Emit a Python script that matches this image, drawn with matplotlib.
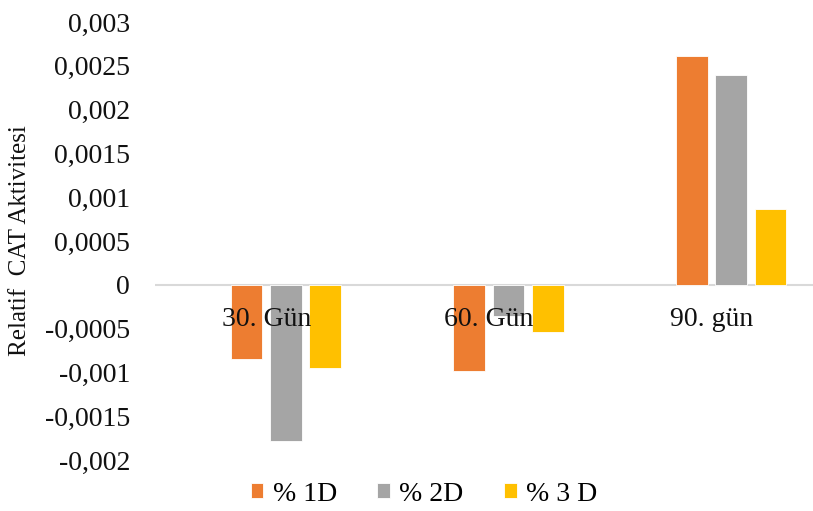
import numpy as np
import matplotlib.pyplot as plt
from matplotlib.ticker import FuncFormatter

plt.rcParams['font.family'] = ['Liberation Serif', 'DejaVu Serif']

# relative CAT activity per sampling day and dose
days = ['30. Gün', '60. Gün', '90. gün']
series_names = ['% 1D', '% 2D', '% 3 D']
dose_1 = [-0.00085, -0.00098, 0.00261]
dose_2 = [-0.00178, -0.00036, 0.00240]
dose_3 = [-0.00095, -0.00054, 0.00087]
colors = ['#ED7D31', '#A5A5A5', '#FFC000']

fig = plt.figure(figsize=(8.13, 5.11), dpi=100)
ax = fig.add_axes([155 / 813, 1 - 460 / 511, 1 - 155 / 813, 438 / 511])

x = np.arange(len(days))
step = 0.1765
width = 0.142
for k, (vals, name, col) in enumerate(zip([dose_1, dose_2, dose_3], series_names, colors)):
    ax.bar(x + (k - 0.5) * step, vals, width, color=col, label=name,
           edgecolor='white', linewidth=0.6, zorder=2)

ax.axhline(0, color='#D9D9D9', lw=1.5, zorder=1)

# category labels sit just under the zero line
for i, d in enumerate(days):
    ax.annotate(d, xy=(i, 0), xytext=(0, -25), textcoords='offset points',
                ha='center', va='center', fontsize=20, color='#111111', zorder=3)

ax.set_xlim(-0.5, 2.456)
ax.set_ylim(-0.002, 0.003)
ax.set_yticks(np.arange(-0.002, 0.00301, 0.0005))
ax.yaxis.set_major_formatter(FuncFormatter(
    lambda v, p: '0' if abs(v) < 1e-12 else ('%g' % round(v, 6)).replace('.', ',')))
ax.tick_params(axis='y', length=0, pad=18, labelsize=20, labelcolor='#111111')
ax.set_xticks([])
for s in ax.spines.values():
    s.set_visible(False)

fig.text(20 / 813, 1 - 241 / 511, 'Relatif  CAT Aktivitesi', rotation=90,
         ha='center', va='center', fontsize=18, color='#111111')

fig.legend(loc='center', bbox_to_anchor=(424 / 813, 1 - 494 / 511), ncol=3,
           frameon=False, fontsize=20, handlelength=0.45, handleheight=0.45,
           handletextpad=0.35, columnspacing=1.45)

fig.savefig('out.png', dpi=100)
